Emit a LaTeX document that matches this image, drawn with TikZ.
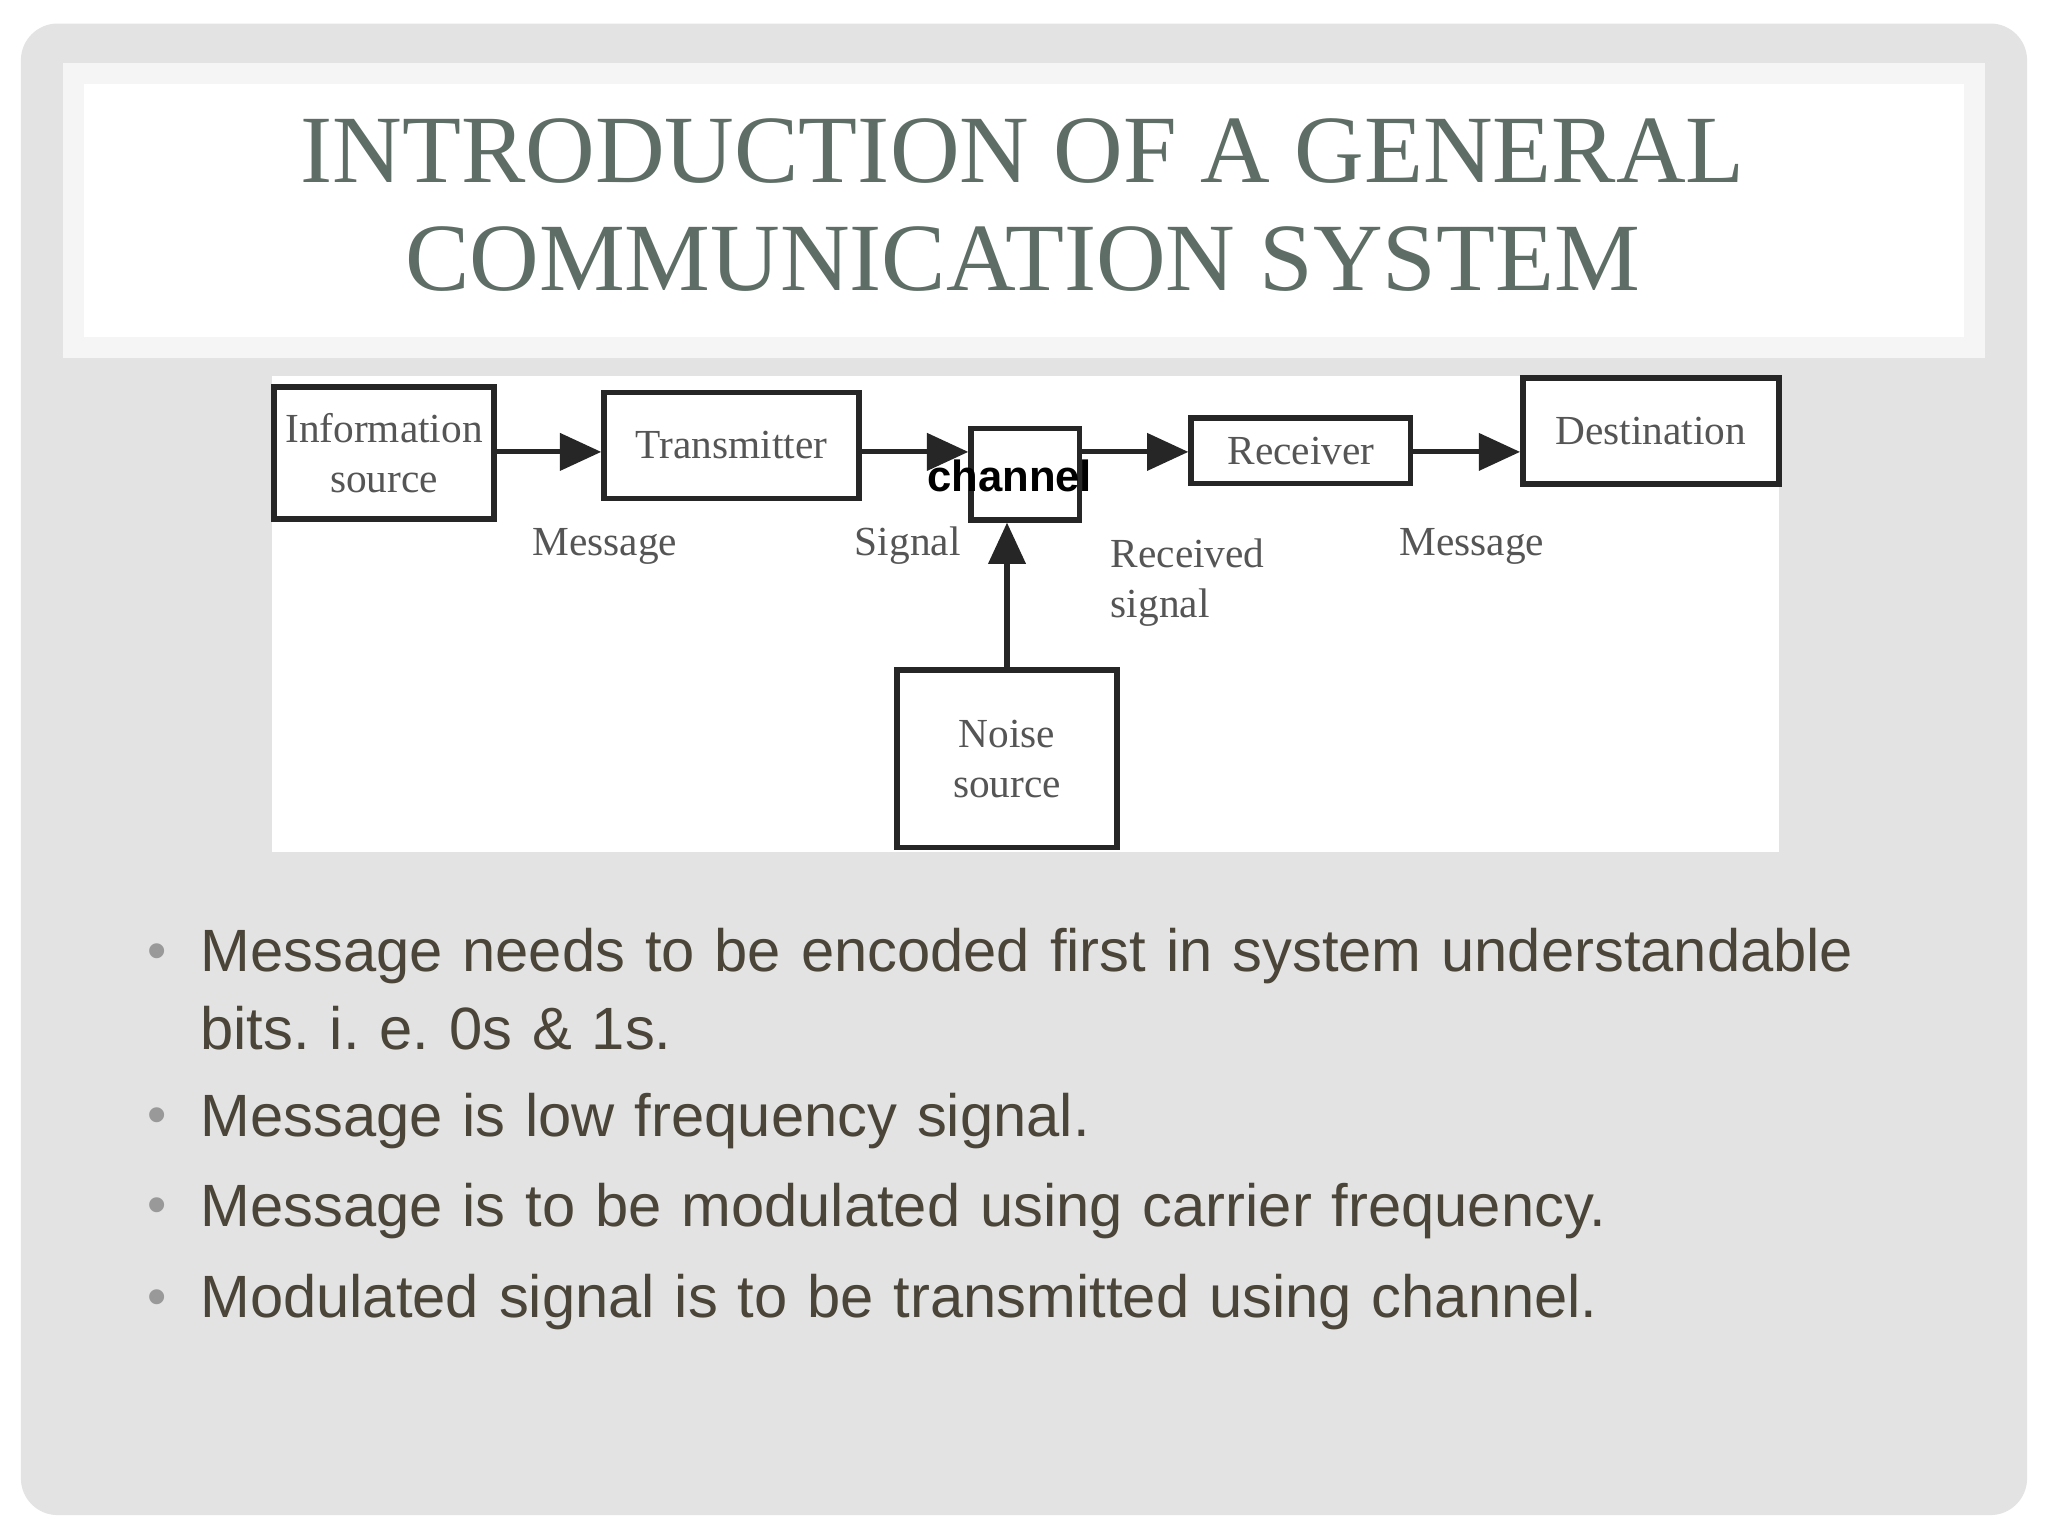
\documentclass[tikz,border=0pt]{standalone}
\usepackage{fontspec}
\setmainfont{Liberation Serif}
\newfontfamily\bulletfont{Liberation Sans}
\usetikzlibrary{arrows.meta}
\definecolor{slidegrey}{HTML}{E3E3E3}
\definecolor{titlegreen}{HTML}{5E6E66}
\definecolor{bodytext}{HTML}{4A4538}
\definecolor{diagtext}{HTML}{555555}
\frenchspacing
\tikzset{
  blk/.style={draw=black!85, line width=1.2pt, inner sep=0pt},
  flow/.style={-{Triangle[length=9pt,width=8pt]}, line width=1.1pt, black!85},
  lbl/.style={font=\fontsize{9}{11}\selectfont, text=diagtext, align=left},
  bul/.style={font=\bulletfont\fontsize{13}{17}\selectfont, text=bodytext, anchor=base west, align=left, text width=13.3cm}
}
\begin{document}
\begin{tikzpicture}[x=0.01cm,y=-0.01cm]
  % slide
  \useasboundingbox (0,0) rectangle (1568,1176);
  \fill[white] (0,0) rectangle (1568,1176);
  \fill[slidegrey, rounded corners=8pt] (16,18) rectangle (1552,1160);
  \fill[white!96!black] (48,48) rectangle (1520,274);
  \fill[white] (64,64) rectangle (1504,258);
  \node[text=titlegreen, font=\fontsize{21}{23.5}\selectfont, align=center] (title) at (783,157)
    {INTRODUCTION OF A GENERAL\\COMMUNICATION SYSTEM};

  % diagram
  \fill[white] (208,288) rectangle (1362,652);
  \node[blk, minimum width=1.68cm, minimum height=1.01cm, lbl, align=center] (info) at (294,347) {Information\\source};
  \node[blk, minimum width=1.95cm, minimum height=0.81cm, lbl] (tx) at (560,341) {Transmitter};
  \node[blk, minimum width=0.83cm, minimum height=0.70cm] (chan) at (785,363) {};
  \node[blk, minimum width=1.68cm, minimum height=0.50cm, lbl] (rx) at (996,345) {Receiver};
  \node[blk, minimum width=1.96cm, minimum height=0.81cm, lbl] (dest) at (1264,330) {Destination};
  \node[blk, minimum width=1.68cm, minimum height=1.36cm, lbl, align=center] (noise) at (771,581) {Noise\\source};
  \node[font=\bulletfont\bfseries\fontsize{9.5}{11}\selectfont] (chlbl) at (773,364) {channel};

  \draw[flow] (info.east |- 0,346) -- (tx.west |- 0,346);
  \draw[flow] (tx.east |- 0,346) -- (chan.west |- 0,346);
  \draw[flow] (chan.east |- 0,346) -- (rx.west |- 0,346);
  \draw[flow] (rx.east |- 0,346) -- (dest.west |- 0,346);
  \draw[flow] (noise.north -| 771,0) -- (chan.south -| 771,0);

  \node[lbl] (m1) at (463,418) {Message};
  \node[lbl] (sig) at (695,418) {Signal};
  \node[lbl, anchor=north west] (rsig) at (838,400) {Received\\signal};
  \node[lbl] (m2) at (1127,418) {Message};

  % bullets
  \foreach \yy/\txt in {731/{Message needs to be encoded first in system understandable\\bits. i. e. 0s \& 1s.},
                        857/{Message is low frequency signal.},
                        926/{Message is to be modulated using carrier frequency.},
                        996/{Modulated signal is to be transmitted using channel.}}
  {
    \node[text=gray!80, font=\bulletfont\fontsize{12}{14}\selectfont, anchor=base] at (120,\yy+11) {\textbullet};
    \node[bul] at (141,\yy+13) {\txt};
  }
\end{tikzpicture}
\end{document}
